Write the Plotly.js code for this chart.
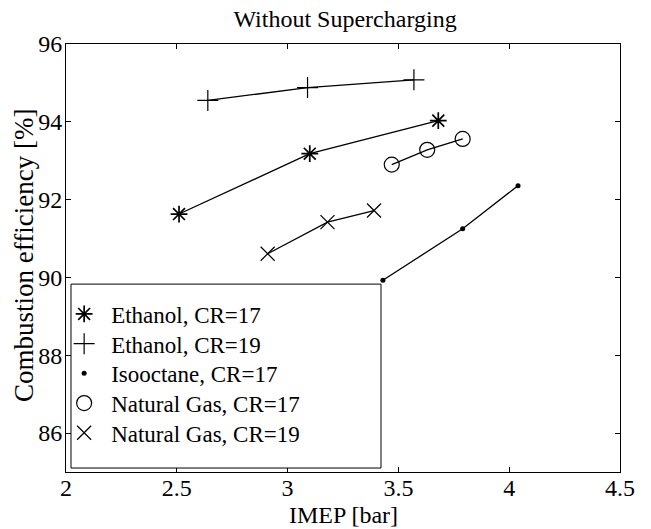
<!DOCTYPE html>
<html>
<head>
<meta charset="utf-8">
<script src="https://cdn.plot.ly/plotly-3.0.1.min.js"></script>
<style>html,body{margin:0;padding:0;background:#fff;}#chart{width:651px;height:529px;}</style>
</head>
<body>
<div id="chart"></div>
<script>
const seriesNames = ["Ethanol, CR=17", "Ethanol, CR=19", "Isooctane, CR=17", "Natural Gas, CR=17", "Natural Gas, CR=19"];
const ethanol17X = [2.51, 3.10, 3.68];
const ethanol17Y = [91.63, 93.18, 94.03];
const ethanol19X = [2.64, 3.09, 3.57];
const ethanol19Y = [94.55, 94.88, 95.08];
const isooctane17X = [3.43, 3.79, 4.04];
const isooctane17Y = [89.93, 91.25, 92.36];
const natgas17X = [3.47, 3.63, 3.79];
const natgas17Y = [92.90, 93.28, 93.56];
const natgas19X = [2.91, 3.18, 3.39];
const natgas19Y = [90.61, 91.42, 91.72];
const xTickVals = [2, 2.5, 3, 3.5, 4, 4.5];
const xTickText = ["2", "2.5", "3", "3.5", "4", "4.5"];
const yTickVals = [86, 88, 90, 92, 94, 96];
const yTickText = ["86", "88", "90", "92", "94", "96"];

const FONT = "Liberation Serif, Times New Roman, serif";
const xs = [ethanol17X, ethanol19X, isooctane17X, natgas17X, natgas19X];
const ys = [ethanol17Y, ethanol19Y, isooctane17Y, natgas17Y, natgas19Y];
const markers = [
  {symbol: "asterisk-open", size: 14, line: {width: 1.7, color: "black"}, color: "black"},
  {symbol: "cross-thin-open", size: 15, line: {width: 1.2, color: "black"}, color: "black"},
  {symbol: "circle", size: 5, line: {width: 0}, color: "black"},
  {symbol: "circle-open", size: 15, line: {width: 1.2, color: "black"}, color: "black"},
  {symbol: "x-thin-open", size: 14, line: {width: 1.2, color: "black"}, color: "black"}
];
const legendRowY = [0.3692, 0.2998, 0.2304, 0.1610, 0.0916];
const legendIds = ["legend", "legend2", "legend3", "legend4", "legend5"];
const traces = [];
for (let i = 0; i < seriesNames.length; i++) {
  traces.push({
    x: xs[i], y: ys[i], mode: "lines+markers", type: "scatter",
    line: {color: "black", width: 1.3},
    marker: markers[i], showlegend: false, legendgroup: "g" + i, name: seriesNames[i],
    cliponaxis: false
  });
  traces.push({
    x: [null], y: [null], mode: "markers", type: "scatter",
    marker: markers[i], showlegend: true, legendgroup: "g" + i, name: seriesNames[i],
    legend: legendIds[i]
  });
}
const layout = {
  width: 651, height: 529,
  margin: {l: 66, r: 31, t: 44, b: 57},
  paper_bgcolor: "white", plot_bgcolor: "white",
  font: {family: FONT, color: "black", size: 24},
  title: {text: "Without Supercharging", font: {family: FONT, size: 24, color: "black"},
          x: 0.530, xref: "container", xanchor: "center", y: 0.964, yref: "container", yanchor: "middle"},
  xaxis: {range: [2, 4.5], tickvals: xTickVals, ticktext: xTickText, ticks: "inside", ticklen: 5,
          tickcolor: "black", showline: true, linecolor: "black", linewidth: 1, mirror: "ticks",
          showgrid: false, zeroline: false, tickfont: {family: FONT, size: 24}, ticklabelstandoff: -6},
  yaxis: {range: [85, 96], tickvals: yTickVals, ticktext: yTickText, ticks: "inside", ticklen: 5,
          tickcolor: "black", showline: true, linecolor: "black", linewidth: 1, mirror: "ticks",
          showgrid: false, zeroline: false, tickfont: {family: FONT, size: 24}, ticklabelstandoff: -2},
  annotations: [
    {text: "IMEP [bar]", xref: "paper", yref: "paper", x: 0.5, y: -0.1005, xanchor: "center", yanchor: "middle",
     showarrow: false, font: {family: FONT, size: 24, color: "black"}},
    {text: "Combustion efficiency [%]", xref: "paper", yref: "paper", x: -0.0758, y: 0.5047, xanchor: "center", yanchor: "middle",
     textangle: -90, showarrow: false, font: {family: FONT, size: 27, color: "black"}}
  ],
  showlegend: true,
  shapes: [{type: "rect", xref: "paper", yref: "paper", x0: 0.009, x1: 0.5686, y0: 0.0093, y1: 0.439,
            line: {color: "black", width: 1}, fillcolor: "white", layer: "above"}]
};
for (let i = 0; i < legendIds.length; i++) {
  layout[legendIds[i]] = {x: -0.016, xanchor: "left", y: legendRowY[i], yanchor: "middle",
    bgcolor: "rgba(0,0,0,0)", borderwidth: 0, itemwidth: 44,
    font: {family: FONT, size: 23, color: "black"}};
}
Plotly.newPlot("chart", traces, layout, {displayModeBar: false, staticPlot: true});
</script>
</body>
</html>
